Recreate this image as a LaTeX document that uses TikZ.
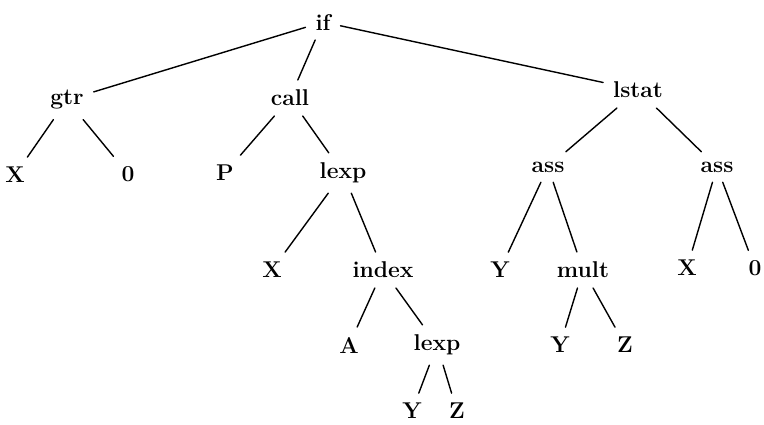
\documentclass[tikz,border=0pt]{standalone}
\usepackage{tikz}
\usetikzlibrary{positioning}

\begin{document}
\begin{tikzpicture}[
    x=0.02cm, y=-0.02cm,
    tnode/.style={font=\fontsize{13}{15}\selectfont\bfseries, inner sep=5.5pt},
    leaf/.style={tnode},
    branch/.style={thick, line cap=round}
]

% Frame of the scan
\useasboundingbox (0,0) rectangle (764,424);

% Root and first level
\node[tnode] (if) at (323, 22) {if};
\node[tnode] (gtr) at (67, 100) {gtr};
\node[tnode] (call) at (290, 98) {call};
\node[tnode] (lstat) at (638, 90) {lstat};

% Second level
\node[leaf] (gtr-x) at (15, 175) {X};
\node[leaf] (gtr-0) at (128, 174) {0};
\node[leaf] (call-p) at (225, 173) {P};
\node[tnode] (lexp-1) at (343, 173) {lexp};
\node[tnode] (ass-1) at (548, 167) {ass};
\node[tnode] (ass-2) at (717, 167) {ass};

% Third level
\node[leaf] (lexp-x) at (272, 270) {X};
\node[tnode] (index) at (383, 270) {index};
\node[leaf] (ass-y) at (500, 270) {Y};
\node[tnode] (mult) at (583, 270) {mult};
\node[leaf] (ass-x) at (687, 268) {X};
\node[leaf] (ass-0) at (755, 268) {0};

% Fourth level
\node[leaf] (index-a) at (349, 345) {A};
\node[tnode] (lexp-2) at (437, 345) {lexp};
\node[leaf] (mult-y) at (560, 345) {Y};
\node[leaf] (mult-z) at (625, 345) {Z};

% Fifth level
\node[leaf] (lexp-y) at (412, 411) {Y};
\node[leaf] (lexp-z) at (457, 411) {Z};

% Branches
\foreach \p/\c in {if/gtr, if/call, if/lstat,
                   gtr/gtr-x, gtr/gtr-0,
                   call/call-p, call/lexp-1,
                   lexp-1/lexp-x, lexp-1/index,
                   lstat/ass-1, lstat/ass-2,
                   ass-1/ass-y, ass-1/mult,
                   ass-2/ass-x, ass-2/ass-0,
                   index/index-a, index/lexp-2,
                   mult/mult-y, mult/mult-z,
                   lexp-2/lexp-y, lexp-2/lexp-z} {
    \draw[branch] (\p) -- (\c);
}

\end{tikzpicture}
\end{document}
